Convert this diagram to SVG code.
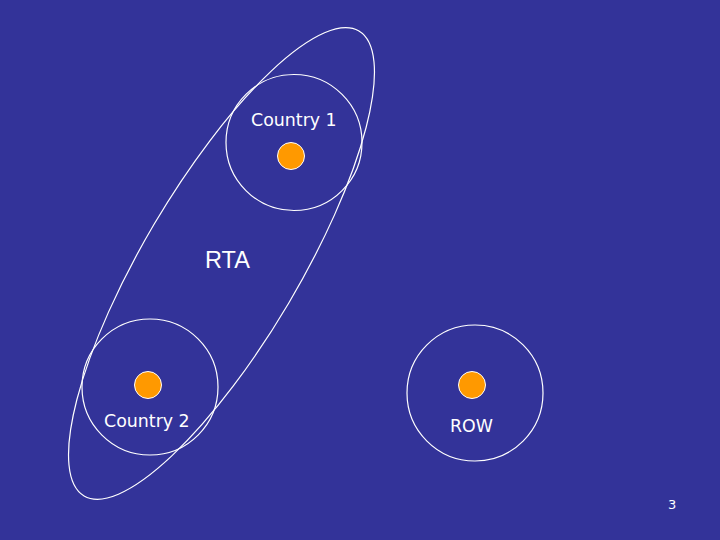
<svg xmlns="http://www.w3.org/2000/svg" width="720" height="540" viewBox="0 0 720 540">
<style>
.ring{fill:none;stroke:#ffffff;stroke-width:1.2}
.dot{fill:#ff9900;stroke:#ffffff;stroke-width:1}
.lbl{fill:#ffffff;font-family:"DejaVu Sans",Verdana,sans-serif;font-size:17.4px}
.big{fill:#ffffff;font-family:"Liberation Sans",Arial,sans-serif;font-size:23.5px}
</style>
<rect width="720" height="540" fill="#333399"/>
<g id="rta">
<ellipse class="ring" cx="221.5" cy="263.5" rx="270" ry="78" transform="rotate(-59.4 221.5 263.5)"/>
<text class="big" x="205" y="268">RTA</text>
</g>
<g id="country1">
<circle class="ring" cx="294" cy="142.5" r="68"/>
<circle class="dot" cx="291" cy="156" r="13.5"/>
<text class="lbl" x="251" y="126">Country 1</text>
</g>
<g id="country2">
<circle class="ring" cx="150" cy="387" r="68"/>
<circle class="dot" cx="148" cy="385" r="13.5"/>
<text class="lbl" x="104" y="427">Country 2</text>
</g>
<g id="row">
<circle class="ring" cx="475" cy="393" r="68"/>
<circle class="dot" cx="472" cy="385" r="13.5"/>
<text class="lbl" x="450" y="432">ROW</text>
</g>
<text class="lbl" x="668" y="509" style="font-size:13px">3</text>
</svg>
